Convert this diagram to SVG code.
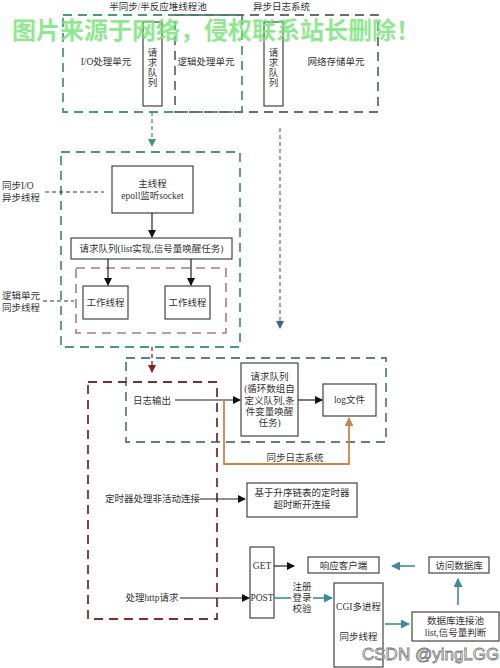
<svg xmlns="http://www.w3.org/2000/svg" width="500" height="668" viewBox="0 0 500 668">
<defs>
<style>
text{font-family:"Liberation Serif","Noto Sans CJK SC",serif;font-size:9.5px;fill:#333;text-anchor:middle}
.l{text-anchor:start}
.box{fill:#fff;stroke:#444;stroke-width:1.2}
.dg{fill:none;stroke:#4a9a7a;stroke-width:1.8;stroke-dasharray:9,6}
.dgray{fill:none;stroke:#5e7272;stroke-width:1.8;stroke-dasharray:9,6}
.dblue{fill:none;stroke:#5b7f95;stroke-width:1.8;stroke-dasharray:9,6}
.dred{fill:none;stroke:#7e2e2e;stroke-width:1.8;stroke-dasharray:9,6}
.dred2{fill:none;stroke:#b07c78;stroke-width:1.6;stroke-dasharray:9,6}
.k{stroke:#222;stroke-width:1.2;fill:none}
.kd{stroke:#333;stroke-width:1;fill:none;stroke-dasharray:4,3}
.t{stroke:#3d8c95;stroke-width:1.6;fill:none}
.wm{font-family:"Noto Sans CJK SC",sans-serif;font-size:24px;font-weight:bold;fill:#7ae67a;fill-opacity:0.85;text-anchor:start}
.wm2{font-family:"Liberation Sans",sans-serif;font-size:17px;fill:#fff;fill-opacity:0.6;stroke:#777;stroke-width:0.8;text-anchor:start}
</style>
<marker id="ak" markerWidth="8" markerHeight="8" refX="7" refY="4" orient="auto" markerUnits="userSpaceOnUse"><path d="M0,0 L8,4 L0,8 Z" fill="#111"/></marker>
<marker id="ag" markerWidth="8" markerHeight="8" refX="7" refY="4" orient="auto" markerUnits="userSpaceOnUse"><path d="M0,0 L8,4 L0,8 Z" fill="#3f9a76"/></marker>
<marker id="ab" markerWidth="8" markerHeight="8" refX="7" refY="4" orient="auto" markerUnits="userSpaceOnUse"><path d="M0,0 L8,4 L0,8 Z" fill="#3e5f9a"/></marker>
<marker id="ar" markerWidth="8" markerHeight="8" refX="7" refY="4" orient="auto" markerUnits="userSpaceOnUse"><path d="M0,0 L8,4 L0,8 Z" fill="#8b1e1e"/></marker>
<marker id="ao" markerWidth="9" markerHeight="9" refX="8" refY="4.5" orient="auto" markerUnits="userSpaceOnUse"><path d="M0,0 L9,4.5 L0,9 Z" fill="#c8874a"/></marker>
<marker id="at" markerWidth="9" markerHeight="9" refX="8" refY="4.5" orient="auto" markerUnits="userSpaceOnUse"><path d="M0,0 L9,4.5 L0,9 Z" fill="#3d8c95"/></marker>
</defs>
<rect width="500" height="668" fill="#fff"/>

<!-- top section -->
<g id="pool-top">
<rect class="dg" x="63" y="15" width="179" height="97"/>
<text x="158" y="10">半同步/半反应堆线程池</text>
<text x="106" y="65">I/O处理单元</text>
<text x="206" y="65">逻辑处理单元</text>
</g>
<g id="async-log-top">
<rect class="dgray" x="175" y="15" width="203" height="97"/>
<text class="l" x="253" y="10">异步日志系统</text>
<text x="336" y="65">网络存储单元</text>
</g>
<g id="queue-top-1">
<rect class="box" x="143" y="22" width="19" height="84"/>
<text x="152.5" y="56">请</text><text x="152.5" y="66">求</text><text x="152.5" y="76">队</text><text x="152.5" y="86">列</text>
</g>
<g id="queue-top-2">
<rect class="box" x="264" y="22" width="19" height="84"/>
<text x="273.5" y="56">请</text><text x="273.5" y="66">求</text><text x="273.5" y="76">队</text><text x="273.5" y="86">列</text>
</g>

<!-- middle section -->
<g id="pool-mid">
<rect class="dg" x="61" y="152" width="179" height="195"/>
</g>
<g id="main-thread">
<rect class="box" x="112" y="166" width="81" height="47"/>
<text x="152.5" y="187">主线程</text>
<text x="152.5" y="199">epoll监听socket</text>
</g>
<g id="queue-mid">
<rect class="box" x="71" y="238" width="161" height="21"/>
<text x="151.5" y="252">请求队列(list实现,信号量唤醒任务)</text>
</g>
<g id="logic-unit">
<rect class="dred2" x="76" y="268" width="150" height="65"/>
</g>
<g id="worker-1">
<rect class="box" x="83" y="286" width="45" height="33"/>
<text x="105.5" y="306">工作线程</text>
</g>
<g id="worker-2">
<rect class="box" x="165" y="286" width="45" height="33"/>
<text x="187.5" y="306">工作线程</text>
</g>
<g id="label-io">
<text class="l" x="2" y="189">同步I/O</text>
<text class="l" x="2" y="201">异步线程</text>
</g>
<g id="label-logic">
<text class="l" x="2" y="299">逻辑单元</text>
<text class="l" x="2" y="311">同步线程</text>
</g>

<!-- bottom section -->
<g id="log-system">
<rect class="dblue" x="126" y="358" width="260" height="84"/>
</g>
<g id="server-box">
<rect class="dred" x="88" y="382" width="129" height="237"/>
</g>
<g id="log-output"><text x="152" y="404">日志输出</text></g>
<g id="log-queue">
<rect class="box" x="241" y="363" width="57" height="73"/>
<text x="269.5" y="380">请求队列</text>
<text x="269.5" y="392">(循环数组自</text>
<text x="269.5" y="404">定义队列,条</text>
<text x="269.5" y="415">件变量唤醒</text>
<text x="269.5" y="426">任务)</text>
</g>
<g id="log-file">
<rect class="box" x="323" y="384" width="53" height="32"/>
<text x="349.5" y="403">log文件</text>
</g>
<g id="sync-log-label"><text x="295" y="461">同步日志系统</text></g>
<g id="timer-label"><text x="152.5" y="502">定时器处理非活动连接</text></g>
<g id="timer">
<rect class="box" x="247" y="483" width="110" height="34"/>
<text x="302" y="496">基于升序链表的定时器</text>
<text x="302" y="508">超时断开连接</text>
</g>
<g id="http-label"><text x="152" y="601">处理http请求</text></g>
<g id="get-post">
<rect class="box" x="250" y="547" width="24" height="71"/>
<text x="262" y="569">GET</text>
<text x="262" y="601">POST</text>
</g>
<g id="respond">
<rect class="box" x="308" y="557" width="71" height="16"/>
<text x="343.5" y="568.5">响应客户端</text>
</g>
<g id="db-access">
<rect class="box" x="429" y="557" width="60" height="16"/>
<text x="459" y="568.5">访问数据库</text>
</g>
<g id="cgi">
<rect class="box" x="334" y="583" width="49" height="84"/>
<text x="358.5" y="610">CGI多进程</text>
<text x="358.5" y="640">同步线程</text>
</g>
<g id="db-pool">
<rect class="box" x="412" y="612" width="87" height="29"/>
<text x="455.5" y="624">数据库连接池</text>
<text x="455.5" y="636">list,信号量判断</text>
</g>
<g id="verify-label">
<text x="302" y="590">注册</text>
<text x="302" y="601">登录</text>
<text x="302" y="612">校验</text>
</g>

<!-- connectors -->
<g id="connectors">
<line x1="152" y1="112" x2="152" y2="146" stroke="#3f9a76" stroke-width="1.3" stroke-dasharray="4,3" marker-end="url(#ag)"/>
<line x1="280" y1="128" x2="280" y2="328" stroke="#3e5f9a" stroke-width="1.1" stroke-dasharray="4,3" marker-end="url(#ab)"/>
<line x1="152" y1="347" x2="152" y2="372" stroke="#8b1e1e" stroke-width="1.3" stroke-dasharray="4,3" marker-end="url(#ar)"/>
<line class="kd" x1="45" y1="192" x2="104" y2="192"/>
<line class="kd" x1="43" y1="301" x2="74" y2="301"/>
<line class="k" x1="152" y1="213" x2="152" y2="237" marker-end="url(#ak)"/>
<line class="k" x1="108" y1="259" x2="108" y2="285" marker-end="url(#ak)"/>
<line class="k" x1="191" y1="259" x2="191" y2="285" marker-end="url(#ak)"/>
<line class="k" x1="175" y1="400" x2="240" y2="400" marker-end="url(#ak)"/>
<line class="k" x1="298" y1="400" x2="322" y2="400" marker-end="url(#ak)"/>
<path d="M224,400 V464 H349 V418" stroke="#c8874a" stroke-width="1.8" fill="none" marker-end="url(#ao)"/>
<line class="k" x1="200" y1="499" x2="245" y2="499" marker-end="url(#ak)"/>
<line class="k" x1="180" y1="598" x2="249" y2="598" marker-end="url(#ak)"/>
<line class="k" x1="274" y1="566" x2="294" y2="566" marker-end="url(#ak)"/>
<line class="t" x1="274" y1="598" x2="291" y2="598"/>
<line class="t" x1="313" y1="598" x2="332" y2="598" marker-end="url(#at)"/>
<line class="t" x1="385" y1="624" x2="409" y2="624" marker-end="url(#at)"/>
<line class="t" x1="458" y1="605" x2="458" y2="579" marker-end="url(#at)"/>
<line class="t" x1="415" y1="566" x2="392" y2="566" marker-end="url(#at)"/>
</g>

<!-- watermarks -->
<text class="wm" x="12" y="39">图片来源于网络，侵权联系站长删除！</text>
<text class="wm2" x="362" y="660">CSDN @yingLGG</text>
</svg>
